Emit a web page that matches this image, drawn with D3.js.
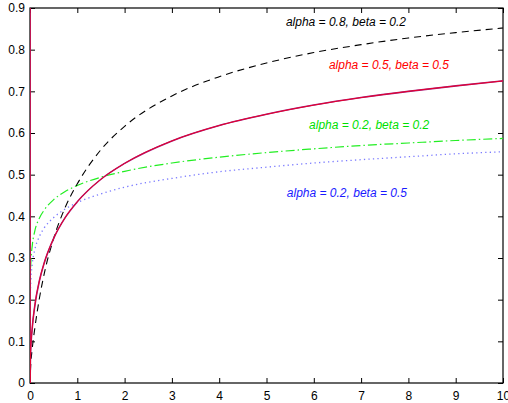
<!DOCTYPE html>
<html>
<head>
<meta charset="utf-8">
<script src="https://cdn.jsdelivr.net/npm/d3@7"></script>
<style>
  html, body { margin: 0; padding: 0; background: #fff; }
  svg { display: block; }
  text { font-family: "Liberation Sans", Arial, Helvetica, sans-serif; }
</style>
</head>
<body>
<svg id="chart" width="508" height="403"></svg>
<script>
// x ticks and y ticks
const xTicks = [0, 1, 2, 3, 4, 5, 6, 7, 8, 9, 10];
const yTicks = [0, 0.1, 0.2, 0.3, 0.4, 0.5, 0.6, 0.7, 0.8, 0.9];

// alpha = 0.8, beta = 0.2
const blackX = [0, 0.01, 0.05, 0.1, 0.2, 0.3, 0.5, 0.75, 1, 1.5, 2, 3, 4, 5, 6, 7, 8, 9, 10];
const blackY = [0, 0.03, 0.085, 0.13, 0.204, 0.262, 0.347, 0.423, 0.478, 0.560, 0.616, 0.689, 0.735, 0.768, 0.793, 0.812, 0.828, 0.841, 0.852];

// alpha = 0.5, beta = 0.5
const redX = [0, 0.001, 0.01, 0.05, 0.1, 0.2, 0.3, 0.5, 0.75, 1, 1.5, 2, 3, 4, 5, 6, 7, 8, 9, 10];
const redY = [1, 0, 0.065, 0.135, 0.184, 0.246, 0.288, 0.347, 0.398, 0.435, 0.489, 0.527, 0.581, 0.618, 0.645, 0.667, 0.685, 0.700, 0.713, 0.725];

// alpha = 0.2, beta = 0.2
const greenX = [0, 0.001, 0.005, 0.01, 0.02, 0.05, 0.1, 0.2, 0.3, 0.5, 0.75, 1, 1.5, 2, 3, 4, 5, 6, 7, 8, 9, 10];
const greenY = [0, 0.187, 0.24, 0.266, 0.293, 0.332, 0.364, 0.396, 0.415, 0.44, 0.46, 0.474, 0.494, 0.508, 0.528, 0.542, 0.553, 0.562, 0.570, 0.576, 0.582, 0.587];

// alpha = 0.2, beta = 0.5
const blueX = [0, 0.001, 0.005, 0.01, 0.02, 0.05, 0.1, 0.2, 0.3, 0.5, 0.75, 1, 1.5, 2, 3, 4, 5, 6, 7, 8, 9, 10];
const blueY = [0, 0.149, 0.198, 0.223, 0.249, 0.288, 0.319, 0.352, 0.372, 0.397, 0.418, 0.433, 0.454, 0.470, 0.491, 0.507, 0.518, 0.528, 0.536, 0.543, 0.550, 0.555];

const labels = ["alpha = 0.8, beta = 0.2", "alpha = 0.5, beta = 0.5", "alpha = 0.2, beta = 0.2", "alpha = 0.2, beta = 0.5"];
const labelX = [5.41, 6.32, 5.9, 5.43];
const labelY = [0.857, 0.754, 0.61, 0.446];

const svg = d3.select("#chart");
const L = 30, R = 503, T = 8, B = 383;

const x = d3.scaleLinear().domain([0, 10]).range([L, R]);
const y = d3.scaleLinear().domain([0, 0.9]).range([B, T]);

svg.append("defs").append("clipPath").attr("id", "plotclip")
  .append("rect").attr("x", L).attr("y", T).attr("width", R - L).attr("height", B - T);

// axes: ticks pointing inward on all four sides
const tickLen = 5;
svg.append("g").attr("transform", `translate(0,${B})`)
  .call(d3.axisBottom(x).tickValues(xTicks).tickSizeInner(-tickLen).tickSizeOuter(0).tickPadding(8).tickFormat(d3.format("d")))
  .call(g => g.select(".domain").remove());
svg.append("g").attr("transform", `translate(0,${T})`)
  .call(d3.axisTop(x).tickValues(xTicks).tickSizeInner(-tickLen).tickSizeOuter(0).tickFormat(""))
  .call(g => g.select(".domain").remove());
svg.append("g").attr("transform", `translate(${L},0)`)
  .call(d3.axisLeft(y).tickValues(yTicks).tickSizeInner(-tickLen).tickSizeOuter(0).tickPadding(5).tickFormat(d => d === 0 ? "0" : d3.format(".1f")(d)))
  .call(g => g.select(".domain").remove());
svg.append("g").attr("transform", `translate(${R},0)`)
  .call(d3.axisRight(y).tickValues(yTicks).tickSizeInner(-tickLen).tickSizeOuter(0).tickFormat(""))
  .call(g => g.select(".domain").remove());

svg.selectAll(".tick text").attr("font-size", 12).attr("fill", "#000")
  .attr("font-family", "'Liberation Sans', Arial, sans-serif");
svg.selectAll(".tick line").attr("stroke", "#000");

svg.append("rect").attr("x", L).attr("y", T).attr("width", R - L).attr("height", B - T)
  .attr("fill", "none").attr("stroke", "#000").attr("stroke-width", 1.2);

const line = d3.line().x(d => x(d[0])).y(d => y(d[1])).curve(d3.curveMonotoneX);
const plot = svg.append("g").attr("clip-path", "url(#plotclip)");

const series = [
  { xs: blueX, ys: blueY, color: "#7b7bff", width: 1.3, dash: "1.3,3.2" },
  { xs: greenX, ys: greenY, color: "#22ee22", width: 1.2, dash: "9,3,1.5,3" },
  { xs: blackX, ys: blackY, color: "#000", width: 1.1, dash: "7,5" },
  { xs: redX, ys: redY, color: "#a02080", width: 1.6, dash: null },
  { xs: redX, ys: redY, color: "#e8002a", width: 1.0, dash: null }
];
series.forEach(s => {
  plot.append("path")
    .datum(s.xs.map((v, i) => [v, s.ys[i]]))
    .attr("fill", "none")
    .attr("stroke", s.color)
    .attr("stroke-width", s.width)
    .attr("stroke-dasharray", s.dash)
    .attr("d", line);
});

const labelColors = ["#000", "#ff0000", "#00e000", "#1a1aff"];
svg.selectAll(".curve-label").data(labels).enter().append("text")
  .attr("class", "curve-label")
  .attr("x", (d, i) => x(labelX[i]))
  .attr("y", (d, i) => y(labelY[i]))
  .attr("font-size", 12)
  .attr("font-style", "italic")
  .attr("fill", (d, i) => labelColors[i])
  .text(d => d);
</script>
</body>
</html>
